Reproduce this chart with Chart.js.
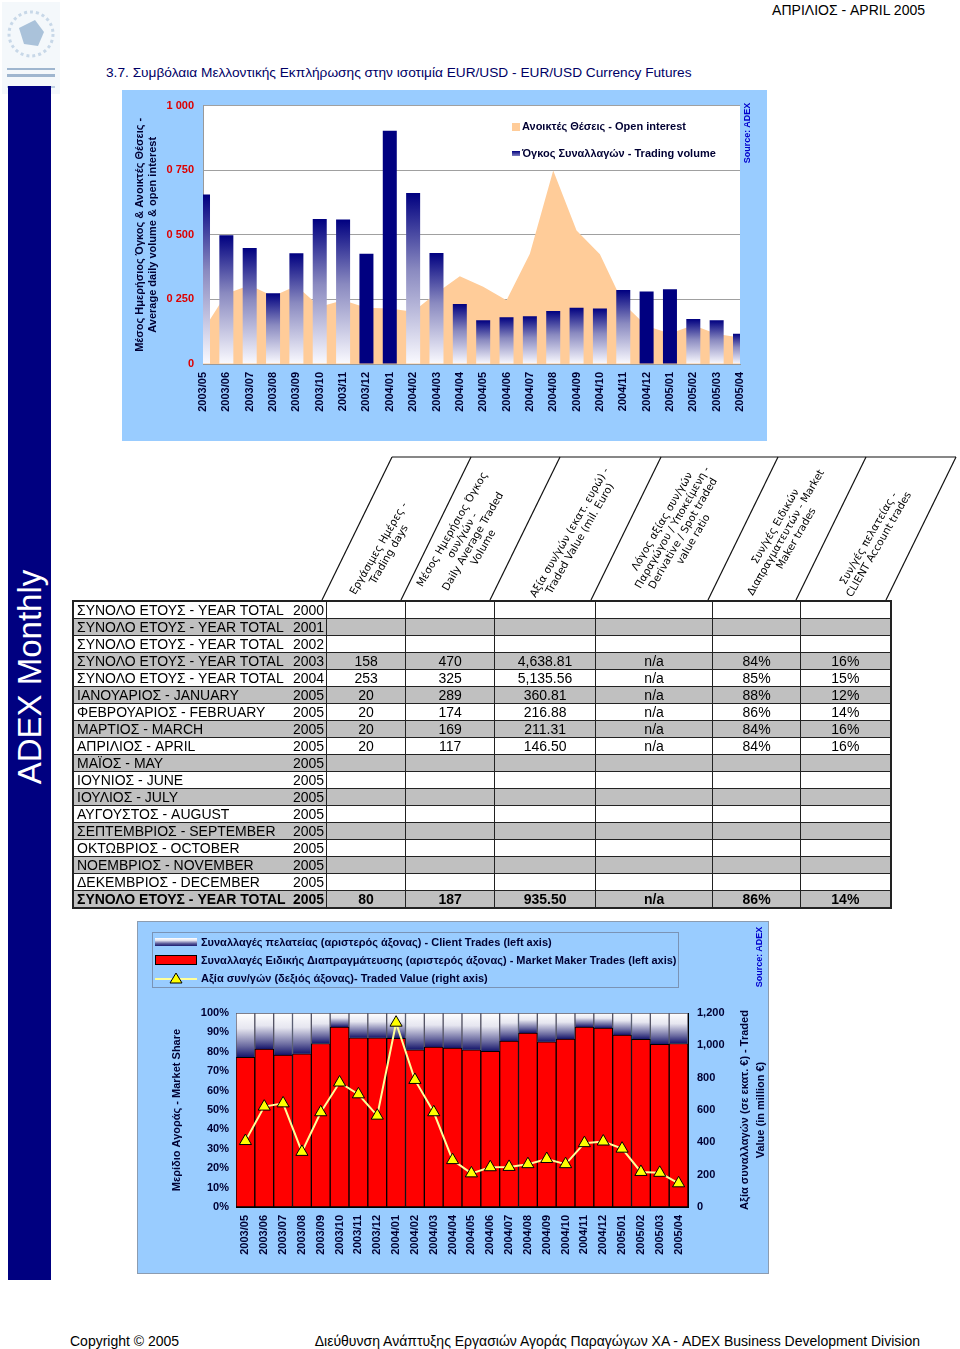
<!DOCTYPE html>
<html>
<head>
<meta charset="utf-8">
<script src="https://cdn.jsdelivr.net/npm/chart.js@4.4.1/dist/chart.umd.min.js"></script>
<style>
  body { margin: 0; width: 960px; height: 1349px; background: #fff; position: relative; overflow: hidden;
         font-family: Arial, 'Liberation Sans', sans-serif; }
  .abs { position: absolute; }
  .rot { position: absolute; transform: translate(-50%, -50%) rotate(-90deg); white-space: nowrap; }
  .panel { position: absolute; background: #99ccff; }
  .legend-txt { position: absolute; font: bold 11px Arial, 'Liberation Sans', sans-serif; color: #000033; white-space: nowrap; line-height: 13px; }
  .hdr { position: absolute; transform: translate(-50%, -50%) rotate(-60deg); white-space: nowrap; text-align: center;
         font: 10.5px 'DejaVu Sans', Verdana, sans-serif; line-height: 12px; color: #000; }
  #stats { position: absolute; left: 72px; top: 600px; border-collapse: collapse; table-layout: fixed;
           font: 14px Arial, 'Liberation Sans', sans-serif; color: #000; border: 2px solid #222; }
  #stats td { height: 16px; line-height: 16px; padding: 0 3px; border-top: 1px solid #222; border-bottom: 1px solid #222;
              white-space: nowrap; overflow: hidden; text-align: center; }
  #stats td.lbl { text-align: left; border-right: none; }
  #stats td.yr { text-align: right; padding-right: 2px; border-right: 1px solid #222; }
  #stats td.val { border-right: 1px solid #222; }
  #stats tr.alt td { background: #c0c0c0; }
  #stats tr.total td { font-weight: bold; }
</style>
</head>
<body>

<!-- logo -->
<svg class="abs" style="left:2px;top:2px" width="58" height="92">
  <rect x="0" y="0" width="58" height="92" fill="#f4f8fb"/>
  <circle cx="29" cy="32" r="22" fill="none" stroke="#c8d8e8" stroke-width="3" stroke-dasharray="3 3"/>
  <path d="M17 26 L33 18 L42 30 L36 44 L22 42 Z" fill="#aac2da"/>
  <rect x="5" y="66" width="48" height="2" fill="#9fb6cf"/>
  <rect x="5" y="72" width="48" height="3" fill="#9fb6cf"/>
  <rect x="5" y="84" width="48" height="2" fill="#bccfe2"/>
</svg>

<div class="abs" style="right:35px;top:2px;font-size:14px;color:#000;">ΑΠΡΙΛΙΟΣ - APRIL 2005</div>
<div class="abs" style="left:106px;top:65px;font-size:13.7px;color:#000066;white-space:nowrap;">3.7. Συμβόλαια Μελλοντικής Εκπλήρωσης στην ισοτιμία EUR/USD - EUR/USD Currency Futures</div>

<!-- side bar -->
<div class="abs" style="left:8px;top:86px;width:43px;height:1194px;background:#000080;"></div>
<div class="rot" style="left:30px;top:677px;color:#fff;font-size:33px;">ADEX Monthly</div>

<!-- top chart -->
<div class="panel" style="left:122px;top:90px;width:645px;height:351px;">
  <canvas id="volChart" width="645" height="351"></canvas>
</div>
<div class="abs" style="left:512px;top:123px;width:8px;height:8px;background:#ffcc99;"></div>
<div class="legend-txt" style="left:522px;top:120px;">Ανοικτές Θέσεις - Open interest</div>
<div class="abs" style="left:512px;top:151px;width:8px;height:5px;background:linear-gradient(#000080,#8080c0);"></div>
<div class="legend-txt" style="left:522px;top:147px;">Όγκος Συναλλαγών - Trading volume</div>
<div class="rot" style="left:747px;top:133px;font:bold 9px Arial, sans-serif;color:#0000cc;">Source: ADEX</div>

<!-- table header -->
<svg class="abs" style="left:0;top:0;pointer-events:none" width="960" height="610" id="hdrSvg"></svg>
<div class="hdr" style="left:383px;top:551px;">Εργάσιμες Ημέρες -<br>Trading days</div>
<div class="hdr" style="left:467px;top:538px;">Μέσος Ημερήσιος Όγκος<br>συν/γών -<br>Daily Average Traded<br>Volume</div>
<div class="hdr" style="left:574px;top:535px;">Αξία συν/γών (εκατ. ευρώ) -<br>Traded Value (mil. Euro)</div>
<div class="hdr" style="left:677px;top:530px;">Λόγος αξίας συν/γών<br>Παραγώγου / Υποκείμενη -<br>Derivative / Spot traded<br>value ratio</div>
<div class="hdr" style="left:785px;top:532px;">Συν/γές Ειδικών<br>Διαπραγματευτών - Market<br>Maker trades</div>
<div class="hdr" style="left:873px;top:541px;">Συν/γές πελατείας -<br>CLIENT Account trades</div>

<table id="stats"></table>

<!-- bottom chart -->
<div class="panel" style="left:138px;top:922px;width:630px;height:351px;outline:1px solid #8c9cb0;">
  <canvas id="shareChart" width="630" height="351"></canvas>
</div>
<div class="abs" style="left:152px;top:932px;width:525px;height:54px;border:1px solid #7a93b5;"></div>
<div class="abs" style="left:155px;top:938px;width:42px;height:8px;background:linear-gradient(#ffffff 0%,#e4e4f0 30%,#5a5a9a 70%,#1a1a70 100%);"></div>
<div class="legend-txt" style="left:201px;top:936px;">Συναλλαγές πελατείας (αριστερός άξονας) - Client Trades (left axis)</div>
<div class="abs" style="left:155px;top:955px;width:40px;height:8px;background:#ff0000;border:1px solid #000;"></div>
<div class="legend-txt" style="left:201px;top:954px;">Συναλλαγές Ειδικής Διαπραγμάτευσης (αριστερός άξονας) - Market Maker Trades (left axis)</div>
<svg class="abs" style="left:155px;top:971px" width="44" height="14">
  <line x1="0" y1="8" x2="42" y2="8" stroke="#ffff99" stroke-width="2"/>
  <polygon points="21,2 27,12 15,12" fill="#ffff00" stroke="#000" stroke-width="1"/>
</svg>
<div class="legend-txt" style="left:201px;top:972px;">Αξία συν/γών (δεξιός άξονας)- Traded Value (right axis)</div>
<div class="rot" style="left:759px;top:957px;font:bold 9px Arial, sans-serif;color:#0000cc;">Source: ADEX</div>
<div class="rot" style="left:752px;top:1110px;font:bold 11px Arial, sans-serif;color:#000033;text-align:center;line-height:16px;">Αξία συναλλαγών (σε εκατ. €) - Traded<br>Value (in million €)</div>

<div class="abs" style="left:70px;top:1333px;font-size:14px;color:#000;">Copyright © 2005</div>
<div class="abs" style="right:40px;top:1333px;font-size:14px;color:#000;white-space:nowrap;">Διεύθυνση Ανάπτυξης Εργασιών Αγοράς Παραγώγων ΧΑ - ADEX Business Development Division</div>

<script>
// months shown on both charts
const months = ['2003/05', '2003/06', '2003/07', '2003/08', '2003/09', '2003/10', '2003/11', '2003/12',
    '2004/01', '2004/02', '2004/03', '2004/04', '2004/05', '2004/06', '2004/07', '2004/08',
    '2004/09', '2004/10', '2004/11', '2004/12', '2005/01', '2005/02', '2005/03', '2005/04'];

// top chart: average daily volume (bars) and open interest (area)
const tradingVolume = [656, 498, 449, 274, 429, 561, 559, 427, 903, 662, 430, 232,
    169, 181, 185, 205, 218, 215, 286, 281, 289, 174, 169, 117];
const openInterest = [130, 272, 305, 262, 303, 222, 247, 218, 215, 202, 275, 340,
    299, 247, 427, 749, 517, 425, 234, 147, 118, 150, 116, 103];
const volumeTickValues = [0, 250, 500, 750, 1000];
const volumeTickLabels = ['0', '0 250', '0 500', '0 750', '1 000'];
const solidBars = ['2003/12', '2004/01', '2004/12', '2005/01'];

// bottom chart: market share (%) and traded value (million €)
const marketMakerShare = [77.2, 81.4, 78.3, 79.0, 84.3, 92.8, 87.2, 87.2, 86.9, 81.0, 82.4, 81.9,
    81.0, 80.2, 85.5, 89.7, 85.2, 86.6, 92.8, 92.2, 88.6, 86.4, 83.8, 84.3];
const clientShare = [22.8, 18.6, 21.7, 21.0, 15.7, 7.2, 12.8, 12.8, 13.1, 19.0, 17.6, 18.1,
    19.0, 19.8, 14.5, 10.3, 14.8, 13.4, 7.2, 7.8, 11.4, 13.6, 16.2, 15.7];
const tradedValue = [408, 621, 641, 341, 586, 770, 697, 565, 1140, 786, 586, 290,
    208, 246, 248, 265, 297, 265, 395, 405, 360.81, 216.88, 211.31, 146.50];

// statistics table
const rowLabels = ['ΣΥΝΟΛΟ ΕΤΟΥΣ - YEAR TOTAL', 'ΣΥΝΟΛΟ ΕΤΟΥΣ - YEAR TOTAL', 'ΣΥΝΟΛΟ ΕΤΟΥΣ - YEAR TOTAL',
    'ΣΥΝΟΛΟ ΕΤΟΥΣ - YEAR TOTAL', 'ΣΥΝΟΛΟ ΕΤΟΥΣ - YEAR TOTAL', 'ΙΑΝΟΥΑΡΙΟΣ - JANUARY',
    'ΦΕΒΡΟΥΑΡΙΟΣ - FEBRUARY', 'ΜΑΡΤΙΟΣ - MARCH', 'ΑΠΡΙΛΙΟΣ - APRIL', 'ΜΑΪΟΣ - MAY', 'ΙΟΥΝΙΟΣ - JUNE',
    'ΙΟΥΛΙΟΣ - JULY', 'ΑΥΓΟΥΣΤΟΣ - AUGUST', 'ΣΕΠΤΕΜΒΡΙΟΣ - SEPTEMBER', 'ΟΚΤΩΒΡΙΟΣ - OCTOBER',
    'ΝΟΕΜΒΡΙΟΣ - NOVEMBER', 'ΔΕΚΕΜΒΡΙΟΣ - DECEMBER', 'ΣΥΝΟΛΟ ΕΤΟΥΣ - YEAR TOTAL'];
const rowYears = ['2000', '2001', '2002', '2003', '2004', '2005', '2005', '2005', '2005',
    '2005', '2005', '2005', '2005', '2005', '2005', '2005', '2005', '2005'];
const tradingDays = ['', '', '', '158', '253', '20', '20', '20', '20', '', '', '', '', '', '', '', '', '80'];
const avgVolume = ['', '', '', '470', '325', '289', '174', '169', '117', '', '', '', '', '', '', '', '', '187'];
const tradedValueTable = ['', '', '', '4,638.81', '5,135.56', '360.81', '216.88', '211.31', '146.50',
    '', '', '', '', '', '', '', '', '935.50'];
const spotRatio = ['', '', '', 'n/a', 'n/a', 'n/a', 'n/a', 'n/a', 'n/a', '', '', '', '', '', '', '', '', 'n/a'];
const makerTrades = ['', '', '', '84%', '85%', '88%', '86%', '84%', '84%', '', '', '', '', '', '', '', '', '86%'];
const clientTrades = ['', '', '', '16%', '15%', '12%', '14%', '16%', '16%', '', '', '', '', '', '', '', '', '14%'];

const colWidths = [212, 38, 79, 89, 101, 117, 88, 90];
const headerEdges = [322, 401, 490, 591, 708, 796, 886];

const NAVY = '#000080';
const AXIS_TEXT = '#000033';
const tickFont = { family: 'Arial, "Liberation Sans", sans-serif', size: 11, weight: 'bold' };

function buildTable() {
    const table = document.getElementById('stats');
    const cg = document.createElement('colgroup');
    colWidths.forEach(w => {
        const c = document.createElement('col');
        c.style.width = w + 'px';
        cg.appendChild(c);
    });
    table.appendChild(cg);
    rowLabels.forEach((label, i) => {
        const tr = document.createElement('tr');
        if (i % 2 === 1) tr.classList.add('alt');
        if (i === rowLabels.length - 1) tr.classList.add('total');
        const cells = [label, rowYears[i], tradingDays[i], avgVolume[i], tradedValueTable[i],
            spotRatio[i], makerTrades[i], clientTrades[i]];
        cells.forEach((txt, j) => {
            const td = document.createElement('td');
            td.textContent = txt;
            td.className = j === 0 ? 'lbl' : (j === 1 ? 'yr' : 'val');
            tr.appendChild(td);
        });
        table.appendChild(tr);
    });
}

function buildHeaderLines() {
    const svg = document.getElementById('hdrSvg');
    const ns = 'http://www.w3.org/2000/svg';
    const add = (x1, y1, x2, y2) => {
        const l = document.createElementNS(ns, 'line');
        l.setAttribute('x1', x1); l.setAttribute('y1', y1);
        l.setAttribute('x2', x2); l.setAttribute('y2', y2);
        l.setAttribute('stroke', '#111'); l.setAttribute('stroke-width', '1.2');
        svg.appendChild(l);
    };
    headerEdges.forEach(x => add(x, 600, x + 70, 457));
    add(headerEdges[0] + 70, 457, headerEdges[headerEdges.length - 1] + 70, 457);
}

// fills the plot area before anything else is drawn
const plotBg = {
    id: 'plotBg',
    beforeDraw(chart, args, opts) {
        if (!opts.color) return;
        const { ctx, chartArea: a } = chart;
        ctx.save();
        ctx.fillStyle = opts.color;
        ctx.fillRect(a.left, a.top, a.width, a.height);
        ctx.restore();
    }
};

function volumeFill(context) {
    const chart = context.chart;
    const i = context.dataIndex;
    if (context.type !== 'data' || !chart.chartArea) return NAVY;
    if (solidBars.includes(months[i])) return NAVY;
    const y = chart.scales.y;
    const top = y.getPixelForValue(tradingVolume[i]);
    const bottom = y.getPixelForValue(0);
    const g = chart.ctx.createLinearGradient(0, top, 0, bottom);
    g.addColorStop(0, NAVY);
    g.addColorStop(0.45, '#8a8ac0');
    g.addColorStop(1, '#fafaff');
    return g;
}

function clientFill(context) {
    const chart = context.chart;
    const i = context.dataIndex;
    if (context.type !== 'data' || !chart.chartArea) return NAVY;
    const y = chart.scales.y;
    const top = y.getPixelForValue(100);
    const bottom = y.getPixelForValue(marketMakerShare[i]);
    const g = chart.ctx.createLinearGradient(0, top, 0, bottom);
    g.addColorStop(0, '#ffffff');
    g.addColorStop(0.35, '#e6e6f0');
    g.addColorStop(0.75, '#6a6aa0');
    g.addColorStop(1, '#14146a');
    return g;
}

function initVolumeChart() {
    const ctx = document.getElementById('volChart').getContext('2d');
    new Chart(ctx, {
        type: 'bar',
        data: {
            labels: months,
            datasets: [{
                type: 'bar',
                label: 'Όγκος Συναλλαγών - Trading volume',
                data: tradingVolume,
                backgroundColor: volumeFill,
                barPercentage: 0.6,
                categoryPercentage: 1,
                clip: 0,
                order: 1
            }, {
                type: 'line',
                label: 'Ανοικτές Θέσεις - Open interest',
                data: openInterest,
                fill: 'origin',
                backgroundColor: '#ffcc99',
                borderWidth: 0,
                pointRadius: 0,
                tension: 0,
                order: 2
            }]
        },
        options: {
            responsive: false,
            animation: false,
            layout: { padding: { top: 15, right: 27, left: 0, bottom: 0 } },
            plugins: {
                legend: { display: false },
                tooltip: { enabled: false },
                plotBg: { color: '#ffffff' }
            },
            scales: {
                x: {
                    offset: false,
                    grid: { display: false, drawTicks: false },
                    border: { color: '#999999' },
                    ticks: { font: tickFont, color: AXIS_TEXT, maxRotation: 90, minRotation: 90, autoSkip: false, padding: 8 },
                    afterFit: s => { s.height = 77; }
                },
                y: {
                    min: 0,
                    max: 1000,
                    grid: { color: '#a0a0a0', drawTicks: false },
                    border: { color: '#999999' },
                    ticks: {
                        stepSize: 250,
                        font: tickFont,
                        color: '#dd0000',
                        padding: 9,
                        callback: v => volumeTickLabels[volumeTickValues.indexOf(v)]
                    },
                    title: {
                        display: true,
                        text: ['Μέσος Ημερήσιος Όγκος & Ανοικτές Θέσεις -', 'Average daily volume & open interest'],
                        font: tickFont,
                        color: AXIS_TEXT,
                        padding: { top: 11, bottom: 0 }
                    },
                    afterFit: s => { s.width = 81; }
                }
            }
        },
        plugins: [plotBg]
    });
}

function initShareChart() {
    const ctx = document.getElementById('shareChart').getContext('2d');
    new Chart(ctx, {
        type: 'bar',
        data: {
            labels: months,
            datasets: [{
                type: 'line',
                label: 'Αξία συν/γών (δεξιός άξονας)- Traded Value (right axis)',
                data: tradedValue,
                yAxisID: 'y2',
                borderColor: '#ffff99',
                borderWidth: 2,
                tension: 0,
                pointStyle: 'triangle',
                pointRadius: 7,
                pointBackgroundColor: '#ffff00',
                pointBorderColor: '#000000',
                pointBorderWidth: 1,
                order: 0
            }, {
                label: 'Συναλλαγές Ειδικής Διαπραγμάτευσης (αριστερός άξονας) - Market Maker Trades (left axis)',
                data: marketMakerShare,
                backgroundColor: '#ff0000',
                borderColor: '#000000',
                borderWidth: 1,
                borderSkipped: false,
                barPercentage: 1,
                categoryPercentage: 1,
                stack: 'share',
                order: 1
            }, {
                label: 'Συναλλαγές πελατείας (αριστερός άξονας) - Client Trades (left axis)',
                data: clientShare,
                backgroundColor: clientFill,
                borderColor: '#555566',
                borderWidth: 1,
                borderSkipped: 'start',
                barPercentage: 1,
                categoryPercentage: 1,
                stack: 'share',
                order: 1
            }]
        },
        options: {
            responsive: false,
            animation: false,
            layout: { padding: { top: 91, right: 0, left: 0, bottom: 0 } },
            plugins: {
                legend: { display: false },
                tooltip: { enabled: false }
            },
            scales: {
                x: {
                    stacked: true,
                    grid: { display: false, drawTicks: false },
                    border: { color: '#000000' },
                    ticks: { font: tickFont, color: AXIS_TEXT, maxRotation: 90, minRotation: 90, autoSkip: false, padding: 8 },
                    afterFit: s => { s.height = 66; }
                },
                y: {
                    stacked: true,
                    min: 0,
                    max: 100,
                    grid: { display: false, drawTicks: false },
                    border: { color: '#000000' },
                    ticks: { stepSize: 10, font: tickFont, color: AXIS_TEXT, padding: 7, callback: v => v + '%' },
                    title: {
                        display: true,
                        text: 'Μερίδιο Αγοράς - Market Share',
                        font: tickFont,
                        color: AXIS_TEXT,
                        padding: { top: 32, bottom: 0 }
                    },
                    afterFit: s => { s.width = 98; }
                },
                y2: {
                    position: 'right',
                    min: 0,
                    max: 1200,
                    grid: { display: false, drawTicks: false },
                    border: { color: '#000000' },
                    ticks: { stepSize: 200, font: tickFont, color: AXIS_TEXT, padding: 9, callback: v => v.toLocaleString('en-US') },
                    afterFit: s => { s.width = 80; }
                }
            }
        }
    });
}

document.addEventListener('DOMContentLoaded', function() {
    buildTable();
    buildHeaderLines();
    initVolumeChart();
    initShareChart();
});
</script>
</body>
</html>
